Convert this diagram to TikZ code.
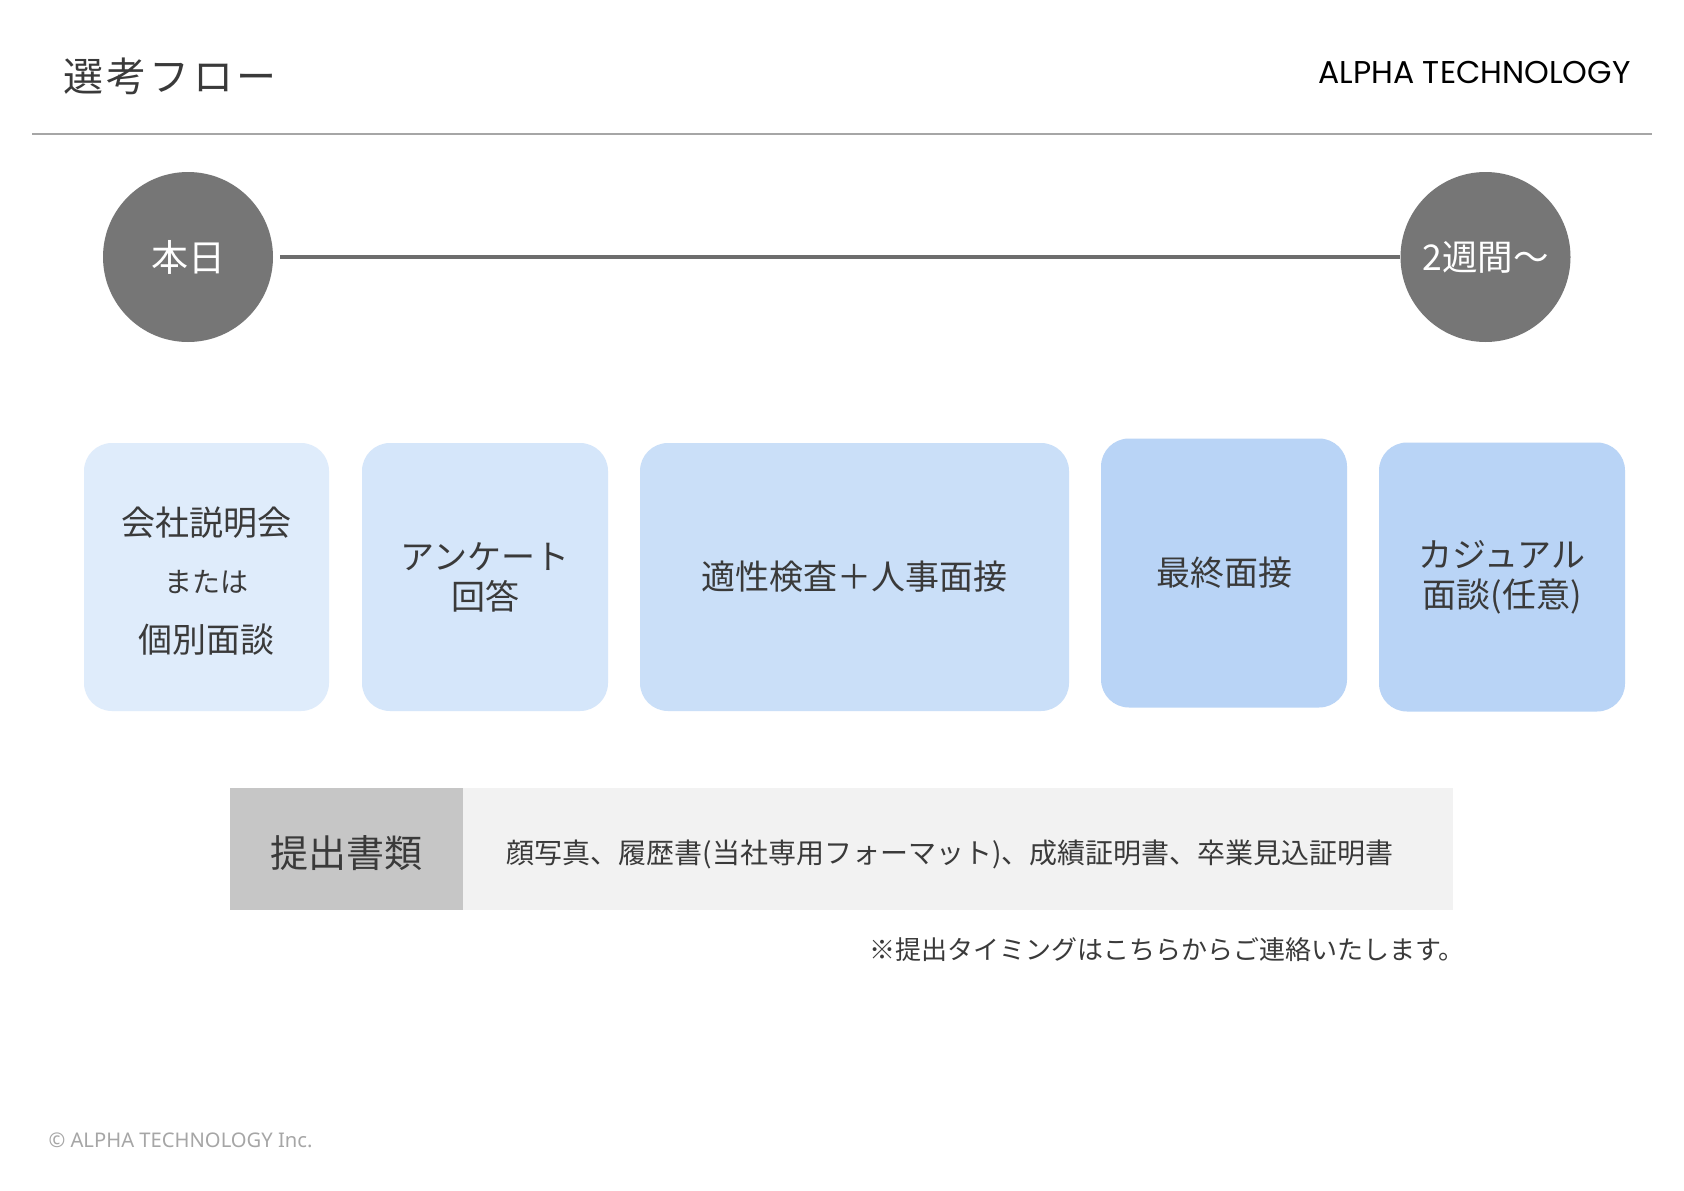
\documentclass[tikz,border=0pt]{standalone}
\usepackage{fontspec}
\setmainfont{Noto Sans CJK JP}
\newfontfamily\logofont{Poppins}
\newfontfamily\copyfont{Noto Sans}
\definecolor{txt}{HTML}{3A3A3A}
\definecolor{circ}{HTML}{767676}
\definecolor{rulec}{HTML}{A6A6A6}
\definecolor{bA}{HTML}{DFECFB}
\definecolor{bB}{HTML}{D5E6FA}
\definecolor{bC}{HTML}{CADFF8}
\definecolor{bD}{HTML}{B9D4F6}
\definecolor{barL}{HTML}{C6C6C6}
\definecolor{barR}{HTML}{F2F2F2}
\begin{document}
\begin{tikzpicture}[x=1pt,y=-1pt,
  stepbox/.style={rectangle, rounded corners=28pt, inner sep=0pt, text=txt,
    align=center, font=\fontsize{34}{40}\selectfont},
  steptext/.style={text=txt, inner sep=0pt},
  daycirc/.style={circle, fill=circ, minimum size=170pt, inner sep=0pt, text=white,
    font=\fontsize{37}{40}\selectfont},
]
\useasboundingbox (0,0) rectangle (1684,1191);
\fill[white] (0,0) rectangle (1684,1191);

% header
\node[anchor=west, text=txt, font=\fontsize{40}{44}\selectfont\addfontfeatures{LetterSpace=8}] (title) at (60,76) {選考フロー};
\node[anchor=east, text=black, font=\logofont\fontsize{31.5}{34}\selectfont] (logo) at (1634,72) {ALPHA TECHNOLOGY};
\draw[rulec, line width=2pt] (32,134) -- (1652,134);

% timeline
\node[daycirc] (today) at (188,257) {本日};
\node[daycirc, font=\fontsize{35.5}{40}\selectfont] (later) at (1485.5,257) {2週間～};
\draw[circ!92!black, line width=4pt, shorten <=7pt] (today) -- (later);

% steps
\node[stepbox, fill=bA, minimum width=245pt, minimum height=268pt] (s1) at (206.5,577) {};
\node[steptext, font=\fontsize{34}{40}\selectfont] (s1a) at (206.5,523) {会社説明会};
\node[steptext, font=\fontsize{28}{32}\selectfont] (s1b) at (206.5,582) {または};
\node[steptext, font=\fontsize{34}{40}\selectfont] (s1c) at (206.5,640) {個別面談};
\node[stepbox, fill=bB, minimum width=246pt, minimum height=268pt] (s2) at (485,577)
  {アンケート\\回答};
\node[stepbox, fill=bC, minimum width=429pt, minimum height=268pt] (s3) at (854.5,577)
  {適性検査＋人事面接};
\node[stepbox, fill=bD, minimum width=246pt, minimum height=269pt] (s4) at (1224,573)
  {最終面接};
\node[stepbox, fill=bD, minimum width=246pt, minimum height=269pt] (s5) at (1502,577)
  {\fontsize{34}{42}\selectfont カジュアル\\面談(任意)};

% documents bar
\node[rectangle, fill=barL, minimum width=233pt, minimum height=122pt, inner sep=0pt,
  text=txt, font=\fontsize{38}{42}\selectfont] (docl) at (346,849) {};
\node[text=txt, font=\fontsize{38}{42}\selectfont] (doclt) at (346,853) {提出書類};
\node[rectangle, fill=barR, minimum width=990pt, minimum height=122pt, inner sep=0pt,
  anchor=west] (docr) at (docl.east) {};
\node[anchor=west, text=txt, font=\fontsize{28}{32}\selectfont] (doctext) at (503,854)
  {顔写真、履歴書(当社専用フォーマット)、成績証明書、卒業見込証明書};

% note
\node[anchor=east, text=txt, font=\fontsize{26}{30}\selectfont] (note) at (1468,950)
  {※提出タイミングはこちらからご連絡いたします。};

% copyright
\node[anchor=west, text=rulec, font=\copyfont\fontsize{20.2}{24}\selectfont] (copy) at (45,1140)
  {© ALPHA TECHNOLOGY Inc.};
\end{tikzpicture}
\end{document}
